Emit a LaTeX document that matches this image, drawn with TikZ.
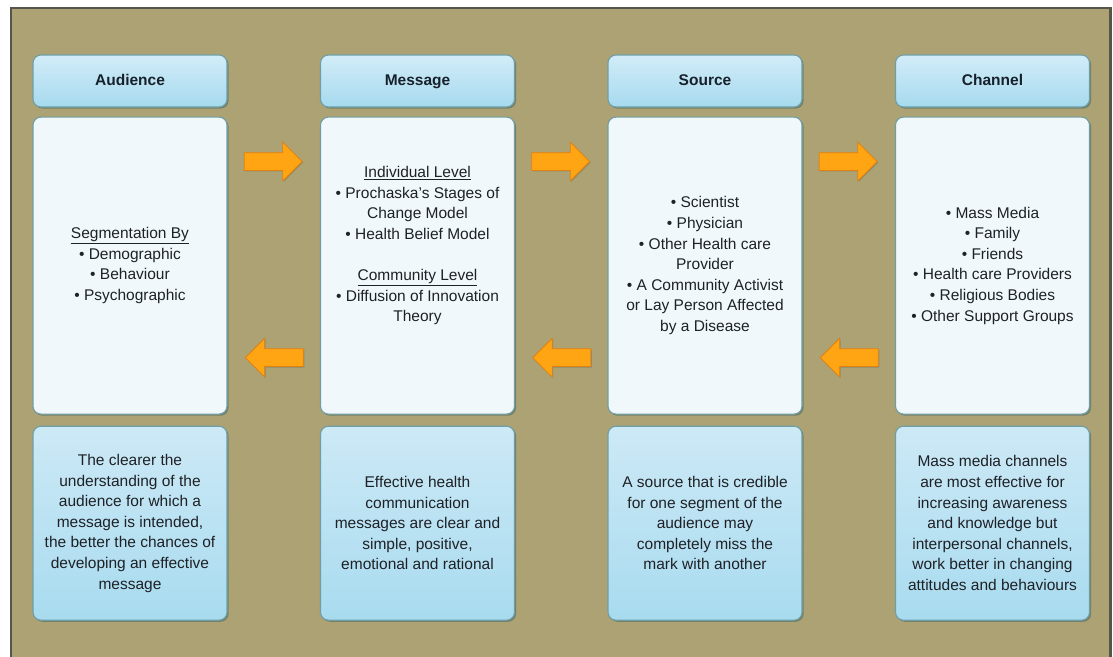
\documentclass[tikz,border=0pt]{standalone}
\usepackage{fontspec}
\setmainfont{Liberation Sans}
\usepackage[x11names, svgnames, rgb]{xcolor}
\usepackage{tikz}
\usetikzlibrary{positioning, calc, shapes, shadows}

\definecolor{framebg}{HTML}{ACA274}
\definecolor{framedge}{HTML}{56554A}
\definecolor{boxline}{HTML}{6E9FA6}
\definecolor{shade}{HTML}{4F6A60}
\definecolor{headtop}{HTML}{D2ECF8}
\definecolor{headbot}{HTML}{A6DAEE}
\definecolor{cardfill}{HTML}{F1F8FB}
\definecolor{notetop}{HTML}{CDE9F6}
\definecolor{notebot}{HTML}{A8DBEF}
\definecolor{headtxt}{HTML}{17212B}
\definecolor{txt}{HTML}{1E2126}
\definecolor{arrfill}{HTML}{FFA514}
\definecolor{arredge}{HTML}{E2800E}

\begin{document}
\begin{tikzpicture}[x=1pt, y=-1pt,
    box/.style={draw=boxline, line width=1.1pt, rounded corners=8pt,
        minimum width=194pt, inner sep=0pt,
        drop shadow={shadow xshift=1.6pt, shadow yshift=-1.6pt, fill=shade, opacity=.6}},
    head/.style={box, minimum height=52pt, top color=headtop, bottom color=headbot,
        text height=11.5pt, text depth=3.5pt,
        font=\fontsize{15.5}{18}\selectfont\bfseries, text=headtxt},
    card/.style={box, minimum height=297pt, fill=cardfill, align=center,
        font=\fontsize{15.5}{20.6}\selectfont, text=txt},
    note/.style={box, minimum height=194pt, top color=notetop, bottom color=notebot,
        align=center, font=\fontsize{15.5}{20.6}\selectfont, text=txt},
    list/.style={align=center, font=\fontsize{15.5}{20.6}\selectfont, text=txt},
    fwd/.style={single arrow, fill=arrfill, draw=arredge, line width=.8pt,
        minimum height=58pt, inner sep=8.5pt, single arrow head extend=10.5pt, anchor=tip,
        drop shadow={shadow xshift=1pt, shadow yshift=-1pt, fill=shade, opacity=.35}},
    back/.style={fwd, shape border rotate=180}]
  \clip (0,0) rectangle (1113,656);
  \fill[white] (0,0) rectangle (1113,656);
  \draw[line width=2.6pt, draw=framedge, fill=framebg] (11,8) rectangle (1110.5,700);

  % column heads
  \node[head] (aud) at (130,81) {Audience};
  \node[head, right=92.4pt of aud] (msg) {Message};
  \node[head, right=92.4pt of msg] (src) {Source};
  \node[head, right=92.4pt of src] (chn) {Channel};

  % middle cards
  \node[card, below=9pt of aud] (audcard) {\underline{Segmentation By}\\
    \textbullet\ Demographic\\ \textbullet\ Behaviour\\ \textbullet\ Psychographic};
  \node[card, below=9pt of msg] (msgcard) {};
  \node[list] (msgtxt) at ([yshift=20pt]msgcard.center) {\underline{Individual Level}\\
    \textbullet\ Prochaska's Stages of\\ Change Model\\ \textbullet\ Health Belief Model\\[20.6pt]
    \underline{Community Level}\\ \textbullet\ Diffusion of Innovation\\ Theory};
  \node[card, below=9pt of src] (srccard) {\textbullet\ Scientist\\ \textbullet\ Physician\\
    \textbullet\ Other Health care\\ Provider\\ \textbullet\ A Community Activist\\
    or Lay Person Affected\\ by a Disease};
  \node[card, below=9pt of chn] (chncard) {\textbullet\ Mass Media\\ \textbullet\ Family\\
    \textbullet\ Friends\\ \textbullet\ Health care Providers\\ \textbullet\ Religious Bodies\\
    \textbullet\ Other Support Groups};

  % bottom notes
  \node[note, below=11pt of audcard] (audnote) {The clearer the\\ understanding of the\\
    audience for which a\\ message is intended,\\ the better the chances of\\
    developing an effective\\ message};
  \node[note, below=11pt of msgcard] (msgnote) {Effective health\\ communication\\
    messages are clear and\\ simple, positive,\\ emotional and rational};
  \node[note, below=11pt of srccard] (srcnote) {A source that is credible\\
    for one segment of the\\ audience may\\ completely miss the\\ mark with another};
  \node[note, below=11pt of chncard] (chnnote) {Mass media channels\\ are most effective for\\
    increasing awareness\\ and knowledge but\\ interpersonal channels,\\
    work better in changing\\ attitudes and behaviours};

  % arrows between cards
  \foreach \a/\b in {aud/msg, msg/src, src/chn} {
    \node[fwd] (fwd\a) at ($(\a card.north east)!.5!(\b card.north west)+(29,45)$) {};
    \node[back] (back\a) at ($(\a card.south east)!.5!(\b card.south west)+(-29,-57)$) {};
  }
\end{tikzpicture}
\end{document}
